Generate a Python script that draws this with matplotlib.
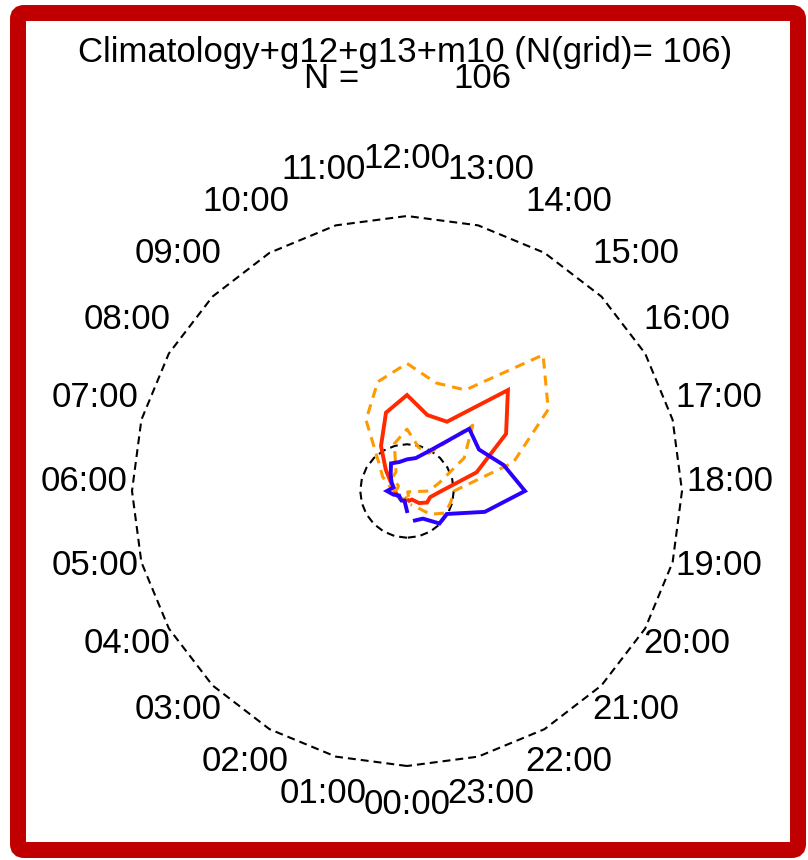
import numpy as np
import matplotlib
matplotlib.use("Agg")
import matplotlib.pyplot as plt
from matplotlib.patches import FancyBboxPatch

plt.rcParams['font.family'] = ['Liberation Sans', 'DejaVu Sans']

# Local hour of each sample and its clock-face label
hours = np.arange(24)
hour_labels = [f"{h:02d}:00" for h in hours]

# Climatological mean (red) and mean +/- one standard deviation (orange)
mean_r = [3.3, 3.5, 3.7, 3.6, 3.8, 4.0, 4.4, 5.1, 6.9, 10.9, 18.9, 29.5,
          34.9, 28.6, 29.1, 51.9, 41.6, 26.2, 12.5, 8.7, 8.4, 6.2, 3.6, 3.6]
upper_r = [4.4, 4.0, 4.0, 4.0, 4.0, 4.0, 4.0, 6.5, 10.2, 14.5, 29.8, 41.1,
           46.4, 40.7, 42.4, 70.0, 59.3, 40.0, 17.1, 16.4, 16.0, 12.0, 6.7, 5.1]
lower_r = [2.2, 2.9, 3.5, 3.3, 3.6, 4.0, 4.7, 3.6, 3.6, 7.3, 8.0, 17.8,
           22.5, 16.4, 15.8, 33.8, 24.0, 12.4, 8.0, 1.1, 0.7, 0.4, 0.5, 2.2]
# Satellite composite (blue)
sat_r = [7.3, 3.6, 4.0, 3.6, 3.3, 5.1, 7.3, 5.1, 6.5, 8.4, 11.6, 10.9,
         11.5, 12.4, 17.1, 32.0, 30.2, 36.4, 42.9, 29.3, 16.7, 16.7, 11.6, 11.1]

R_OUTER = 100.0
R_INNER = 17.0
R_LABEL = 117.5
R_MAX = 120.0

title_main = "Climatology+g12+g13+m10 (N(grid)= 106)"
n_label = "N ="
n_value = "106"

fig = plt.figure(figsize=(8.08, 8.6), dpi=100)

# Red rounded frame around the whole figure
frame_ax = fig.add_axes([0, 0, 1, 1])
frame_ax.set_xlim(0, 808)
frame_ax.set_ylim(860, 0)
frame_ax.axis('off')
frame_ax.add_patch(FancyBboxPatch((18, 13), 780, 837,
                                  boxstyle="round,pad=0,rounding_size=6",
                                  fill=False, ec='#c00000', lw=11.5))

ax = fig.add_axes([77 / 808, 39 / 860, 660 / 808, 660 / 860], projection='polar')
ax.set_theta_zero_location('S')
ax.set_theta_direction(-1)
ax.set_rlim(0, R_MAX)
ax.axis('off')

theta = hours * 2 * np.pi / 24
theta_ring = np.append(theta, theta[0])


def polar_line(values, **kw):
    r = np.asarray(values, float)
    th = np.where(r < 0, theta + np.pi, theta)
    ax.plot(th, np.abs(r), **kw)


# Reference rings
for rr in (R_OUTER, R_INNER):
    ax.plot(theta_ring, np.full(theta_ring.shape, rr), color='black', lw=1.5,
            linestyle=(0, (3.8, 2.4)), solid_capstyle='butt')

polar_line(mean_r, color='#ff2a00', lw=2.8, solid_joinstyle='miter')
dash = (0, (3.3, 2.3))
polar_line(upper_r, color='#ff9900', lw=2.2, linestyle=dash)
polar_line(lower_r, color='#ff9900', lw=2.2, linestyle=dash)
polar_line(sat_r, color='#2a00ff', lw=2.8, solid_joinstyle='miter')

for t, lab in zip(theta, hour_labels):
    ax.text(t, R_LABEL, lab, ha='center', va='baseline', fontsize=25)

fig.text(405 / 808, (860 - 62) / 860, title_main, ha='center', va='baseline',
         fontsize=25)
fig.text(304 / 808, (860 - 88) / 860, n_label, ha='left', va='baseline', fontsize=25)
fig.text(453 / 808, (860 - 88) / 860, n_value, ha='left', va='baseline', fontsize=25)

fig.savefig('out.png', dpi=100)
